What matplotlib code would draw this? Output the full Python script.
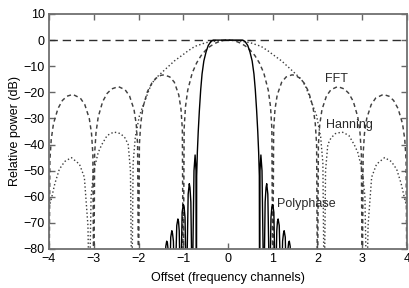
import matplotlib
matplotlib.use("Agg")
import matplotlib.pyplot as plt
import numpy as np

plt.rcParams['font.family'] = ['Liberation Sans', 'DejaVu Sans']
plt.rcParams['font.size'] = 9

# values, positive offsets only (curves are symmetric)
# -100 marks a null that falls below the bottom of the axes
fft_x = [0, 0.1, 0.2, 0.3, 0.4, 0.5, 0.6, 0.7, 0.8, 0.9, 0.95, 0.98, 1.0,
         1.02, 1.05, 1.1, 1.2, 1.3, 1.43, 1.5, 1.6, 1.7, 1.8, 1.9, 1.95, 1.98, 2.0,
         2.02, 2.05, 2.1, 2.2, 2.3, 2.45, 2.6, 2.7, 2.8, 2.9, 2.95, 2.98, 3.0,
         3.02, 3.05, 3.1, 3.2, 3.3, 3.47, 3.6, 3.7, 3.8, 3.9, 3.95, 3.98, 4.0]
fft_db = [0, -0.1, -0.6, -1.3, -2.4, -3.9, -5.9, -8.7, -12.6, -19.2, -25.5, -33.8, -100,
          -34.2, -26.5, -21.0, -16.1, -14.1, -13.3, -13.5, -14.5, -16.4, -19.7, -25.7, -31.9, -39.9, -100,
          -40.1, -32.3, -26.6, -21.4, -19.0, -17.8, -18.7, -20.4, -23.5, -29.4, -35.5, -43.5, -100,
          -43.6, -35.7, -30.0, -24.7, -22.2, -20.8, -21.5, -23.1, -26.2, -32.0, -38.0, -46.0, -100]

hann_x = [0, 0.25, 0.5, 0.74, 0.9, 1.0, 1.2, 1.44, 1.64, 1.74, 1.83, 1.98, 2.07, 2.12, 2.15,
          2.18, 2.23, 2.3, 2.4, 2.55, 2.7, 2.82, 2.9, 3.0, 3.06, 3.1,
          3.13, 3.21, 3.32, 3.5, 3.65, 3.77, 3.87, 3.95, 4.0]
hann_db = [0, -0.3, -1.0, -2.4, -4.2, -5.5, -8.0, -11.8, -15.0, -18.0, -22.0, -29.0, -37.0, -47.0, -100,
           -50.0, -40.0, -37.5, -35.8, -35.2, -36.5, -40.0, -43.0, -50.0, -60.0, -100,
           -71.0, -52.5, -47.5, -45.0, -46.5, -49.5, -55.0, -61.0, -64.0]

poly_x = [0, 0.33, 0.38, 0.44, 0.49, 0.54, 0.58, 0.61, 0.64, 0.665, 0.685, 0.70, 0.705,
          0.715, 0.735, 0.76, 0.80,
          0.83, 0.85, 0.865, 0.89, 0.93,
          0.96, 0.98, 1.0, 1.025, 1.06,
          1.09, 1.105, 1.12, 1.145, 1.19,
          1.22, 1.24, 1.255, 1.28, 1.31,
          1.34, 1.355, 1.37, 1.39, 1.42]
poly_db = [0, 0, -0.5, -2.0, -4.5, -8.0, -13.0, -19.0, -27.0, -35.0, -43.0, -52.0, -100,
           -50.0, -44.0, -50.0, -100,
           -62.0, -56.5, -55.0, -59.0, -100,
           -68.0, -64.0, -63.0, -66.0, -100,
           -73.0, -69.5, -68.5, -71.0, -100,
           -77.0, -74.0, -73.0, -75.5, -100,
           -80.0, -77.5, -77.0, -79.0, -100]


def mirrored(x, y):
    x = np.asarray(x, float)
    y = np.asarray(y, float)
    return np.concatenate([-x[::-1], x[1:]]), np.concatenate([y[::-1], y[1:]])


fig = plt.figure(figsize=(4.10, 2.88), dpi=100)
ax = fig.add_axes([49 / 410, 1 - 249 / 288, 358 / 410, 235 / 288])

ax.axhline(0, color='#2e2e2e', lw=1.0, dashes=(6, 3.5))
x, y = mirrored(fft_x, fft_db)
ax.plot(x, y, color='#404040', lw=1.05, dashes=(2.8, 2.2))
x, y = mirrored(hann_x, hann_db)
ax.plot(x, y, color='#3c3c3c', lw=1.0, dashes=(1.0, 1.7))
x, y = mirrored(poly_x, poly_db)
ax.plot(x, y, color='black', lw=1.0)

ax.text(2.17, -15, 'FFT', va='center', ha='left', color='#2a2a2a')
ax.text(2.2, -32.6, 'Hanning', va='center', ha='left', color='#2a2a2a')
ax.text(1.1, -62.8, 'Polyphase', va='center', ha='left', color='#2a2a2a')

ax.set_xlim(-4, 4)
ax.set_ylim(-80, 10)
ax.set_xticks(np.arange(-4, 5, 1))
ax.set_yticks(np.arange(-80, 11, 10))
ax.tick_params(direction='in', length=4, width=1, color='#666666',
               top=True, right=True, labelsize=9, pad=3)
for s in ax.spines.values():
    s.set_color('#707070')
    s.set_linewidth(1.3)

ax.set_xlabel('Offset (frequency channels)', fontsize=9, labelpad=5)
ax.set_ylabel('Relative power (dB)', fontsize=9, labelpad=2)

fig.savefig('out.png', dpi=100)
